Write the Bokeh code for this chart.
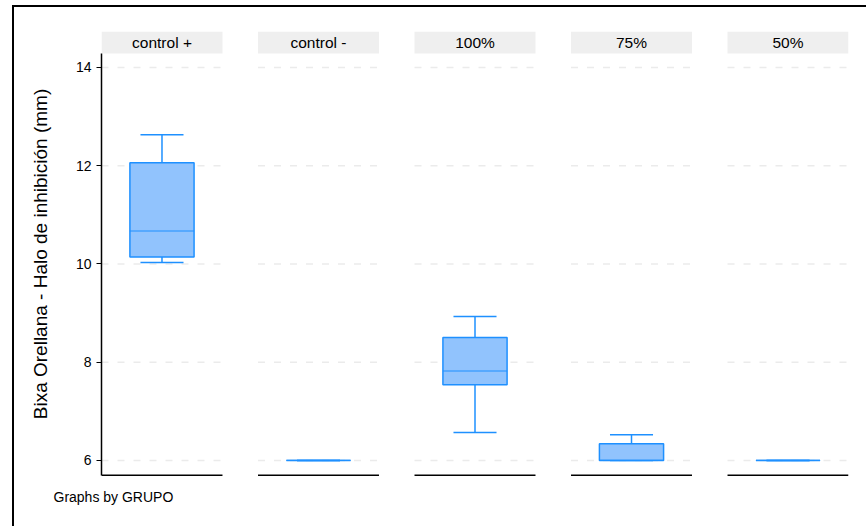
from bokeh.plotting import figure
from bokeh.models import FixedTicker, Title, Range1d
from bokeh.core.properties import value
from bokeh.embed import file_html
from bokeh.resources import INLINE

# ---- data ----
groups = ["control +", "control -", "100%", "75%", "50%"]
lower = [10.03, 6.0, 6.57, 6.0, 6.0]
q1 = [10.14, 6.0, 7.54, 6.0, 6.0]
median = [10.67, 6.0, 7.82, 6.0, 6.0]
q3 = [12.06, 6.0, 8.50, 6.34, 6.0]
upper = [12.63, 6.0, 8.93, 6.52, 6.0]
y_ticks = [6, 8, 10, 12, 14]

# ---- layout constants ----
FONT = "Liberation Sans"
PANEL_W = 0.773          # panel width in x units (one panel step = 1)
BOX_W = 0.41
CAP_W = 0.275
Y_BOTTOM = 5.695         # bottom of each panel
Y_TOP = 14.285           # top of plot region (bottom of header strip)
Y_HEAD = 14.732          # top of header strip
LINE = "#1e90ff"
FILL = "#91c3fd"

p = figure(width=854, height=521, output_backend="svg", toolbar_location=None,
           x_range=Range1d(0, 4 + PANEL_W), y_range=Range1d(5.672, Y_HEAD),
           min_border_left=87, min_border_right=20, min_border_top=24,
           min_border_bottom=52)
p.styles = {"border-left": "2px solid black", "border-top": "2px solid black",
            "margin-left": "12px", "margin-top": "5px"}
p.outline_line_color = None
p.xgrid.visible = False
p.ygrid.visible = False
p.xaxis.visible = False

ya = p.yaxis[0]
ya.ticker = FixedTicker(ticks=y_ticks)
ya.bounds = (Y_BOTTOM, Y_TOP)
ya.axis_line_color = "black"
ya.axis_line_width = 1.5
ya.major_tick_line_color = "black"
ya.major_tick_out = 5
ya.major_tick_in = 0
ya.minor_tick_line_color = None
ya.major_label_text_font = FONT
ya.major_label_text_font_size = "14px"
ya.major_label_text_color = "black"
ya.major_label_standoff = 5
ya.axis_label = "Bixa Orellana - Halo de inhibición (mm)"
ya.axis_label_text_font = FONT
ya.axis_label_text_font_size = "19px"
ya.axis_label_text_font_style = "normal"
ya.axis_label_text_color = "black"
ya.axis_label_standoff = 22

n = len(groups)
starts = [float(i) for i in range(n)]
ends = [s + PANEL_W for s in starts]
centers = [s + PANEL_W / 2 for s in starts]

# dashed grid lines per panel
gx0, gx1, gy = [], [], []
for s, e in zip(starts, ends):
    for t in y_ticks:
        gx0.append(s); gx1.append(e); gy.append(t)
p.segment(x0=gx0, y0=gy, x1=gx1, y1=gy, line_color="#ebebeb",
          line_width=1.5, line_dash="7 9")

# header strips
p.quad(left=starts, right=ends, bottom=[Y_TOP] * n, top=[Y_HEAD] * n,
       fill_color="#efefef", line_color=None)
p.text(x=centers, y=[(Y_TOP + Y_HEAD) / 2] * n, text=groups,
       text_align="center", text_baseline="middle",
       text_font=value(FONT), text_font_size="15.5px", text_color="black")

# panel baselines
p.segment(x0=starts, y0=[Y_BOTTOM] * n, x1=ends, y1=[Y_BOTTOM] * n,
          line_color="black", line_width=1.5)

# whiskers
p.segment(x0=centers, y0=q3, x1=centers, y1=upper, line_color=LINE, line_width=1.5)
p.segment(x0=centers, y0=q1, x1=centers, y1=lower, line_color=LINE, line_width=1.5)
p.segment(x0=[c - CAP_W / 2 for c in centers], y0=upper,
          x1=[c + CAP_W / 2 for c in centers], y1=upper, line_color=LINE, line_width=1.5)
p.segment(x0=[c - CAP_W / 2 for c in centers], y0=lower,
          x1=[c + CAP_W / 2 for c in centers], y1=lower, line_color=LINE, line_width=1.5)

# boxes
p.vbar(x=centers, bottom=q1, top=q3, width=BOX_W, fill_color=FILL,
       line_color=LINE, line_width=1.5)
p.segment(x0=[c - BOX_W / 2 for c in centers], y0=median,
          x1=[c + BOX_W / 2 for c in centers], y1=median, line_color=LINE, line_width=1.2)

# note
p.add_layout(Title(text="Graphs by GRUPO", align="left", offset=-48,
                   text_font=FONT, text_font_size="14px", text_font_style="normal",
                   text_color="black", standoff=21), "below")

open("out.html", "w").write(file_html(p, INLINE))
